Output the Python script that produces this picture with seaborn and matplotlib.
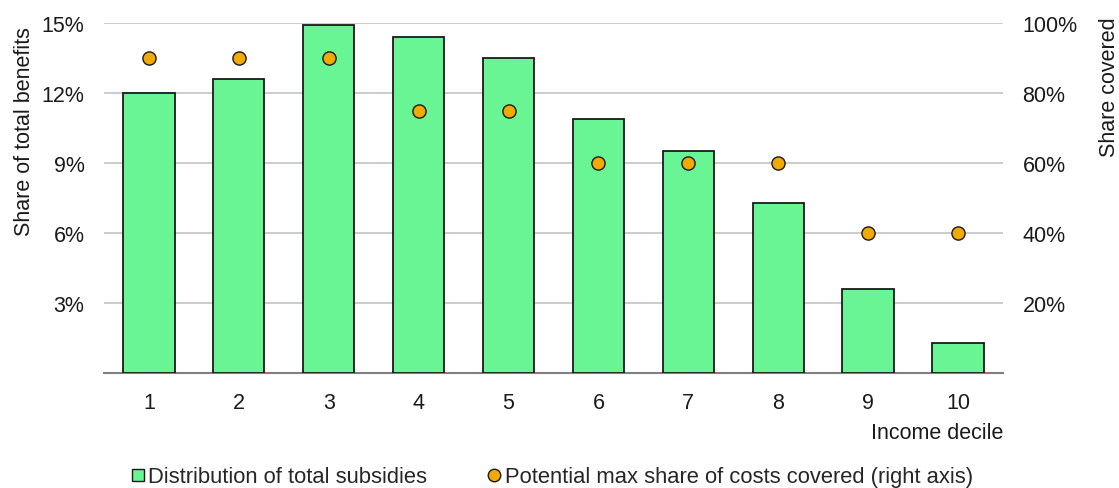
import matplotlib
matplotlib.use("Agg")
import matplotlib.pyplot as plt
from matplotlib.ticker import FuncFormatter
from matplotlib.lines import Line2D
import seaborn as sns
import pandas as pd

deciles = ["1", "2", "3", "4", "5", "6", "7", "8", "9", "10"]
subsidy_share = [12.0, 12.6, 14.9, 14.4, 13.5, 10.9, 9.5, 7.3, 3.6, 1.3]
max_cost_share = [90, 90, 90, 75, 75, 60, 60, 60, 40, 40]

sns.set_theme(style="white")
plt.rcParams["font.family"] = ["Liberation Sans", "DejaVu Sans"]

FS = 15.5
TXT = "#1a1a1a"

df = pd.DataFrame({"decile": deciles, "subsidy": subsidy_share, "covered": max_cost_share})

fig = plt.figure(figsize=(11.19, 4.89), dpi=100)
ax = fig.add_axes([0.0929, 0.2352, 0.8034, 0.7157])

bar_color = "#69f594"
dot_color = "#f2a900"

sns.barplot(data=df, x="decile", y="subsidy", ax=ax, color=bar_color,
            edgecolor=TXT, linewidth=1.3, width=0.57, saturation=1, zorder=3)
ax.set_xlim(-0.5, 9.5)
ax.set_ylim(0, 15)
ax.set_yticks([3, 6, 9, 12, 15])
ax.yaxis.set_major_formatter(FuncFormatter(lambda v, p: f"{v:.0f}%"))
ax.grid(axis="y", color="#c4c4c4", linewidth=1.2, zorder=0)
ax.set_axisbelow(True)
for s in ["top", "left", "right"]:
    ax.spines[s].set_visible(False)
ax.spines["bottom"].set_color("#808080")
ax.spines["bottom"].set_linewidth(1.5)
ax.tick_params(axis="x", length=0, labelsize=FS, colors=TXT, pad=14)
ax.tick_params(axis="y", length=0, labelsize=FS, colors=TXT, pad=14)
ax.set_xlabel("")
ax.set_ylabel("Share of total benefits", fontsize=FS, color=TXT, labelpad=4.5)
ax.yaxis.label.set_y(0.694)
ax.text(1.0, -0.14, "Income decile", transform=ax.transAxes, ha="right", va="top",
        fontsize=FS, color=TXT)

ax2 = ax.twinx()
sns.scatterplot(data=df, x="decile", y="covered", ax=ax2, color=dot_color,
                edgecolor=TXT, linewidth=1.0, s=90, zorder=4)
ax2.set_ylim(0, 100)
ax2.set_yticks([20, 40, 60, 80, 100])
ax2.yaxis.set_major_formatter(FuncFormatter(lambda v, p: f"{v:.0f}%"))
for s in ["top", "left", "right", "bottom"]:
    ax2.spines[s].set_visible(False)
ax2.tick_params(axis="y", length=0, labelsize=FS, colors=TXT, pad=14)
ax2.set_ylabel("Share covered", fontsize=FS, color=TXT, labelpad=15.5)
ax2.yaxis.label.set_y(0.82)
ax2.set_xlabel("")

handles = [
    Line2D([], [], marker="s", linestyle="none", markerfacecolor=bar_color,
           markeredgecolor=TXT, markersize=8.5, markeredgewidth=1.0),
    Line2D([], [], marker="o", linestyle="none", markerfacecolor=dot_color,
           markeredgecolor=TXT, markersize=9, markeredgewidth=1.0),
]
fig.legend(handles, ["Distribution of total subsidies",
                     "Potential max share of costs covered (right axis)"],
           loc="center", bbox_to_anchor=(0.493, 0.0225), ncol=2, frameon=False,
           handletextpad=0.15, columnspacing=2.7, handlelength=0.7,
           borderpad=0.0, prop={"size": 15.8})

fig.savefig("out.png", dpi=100)
